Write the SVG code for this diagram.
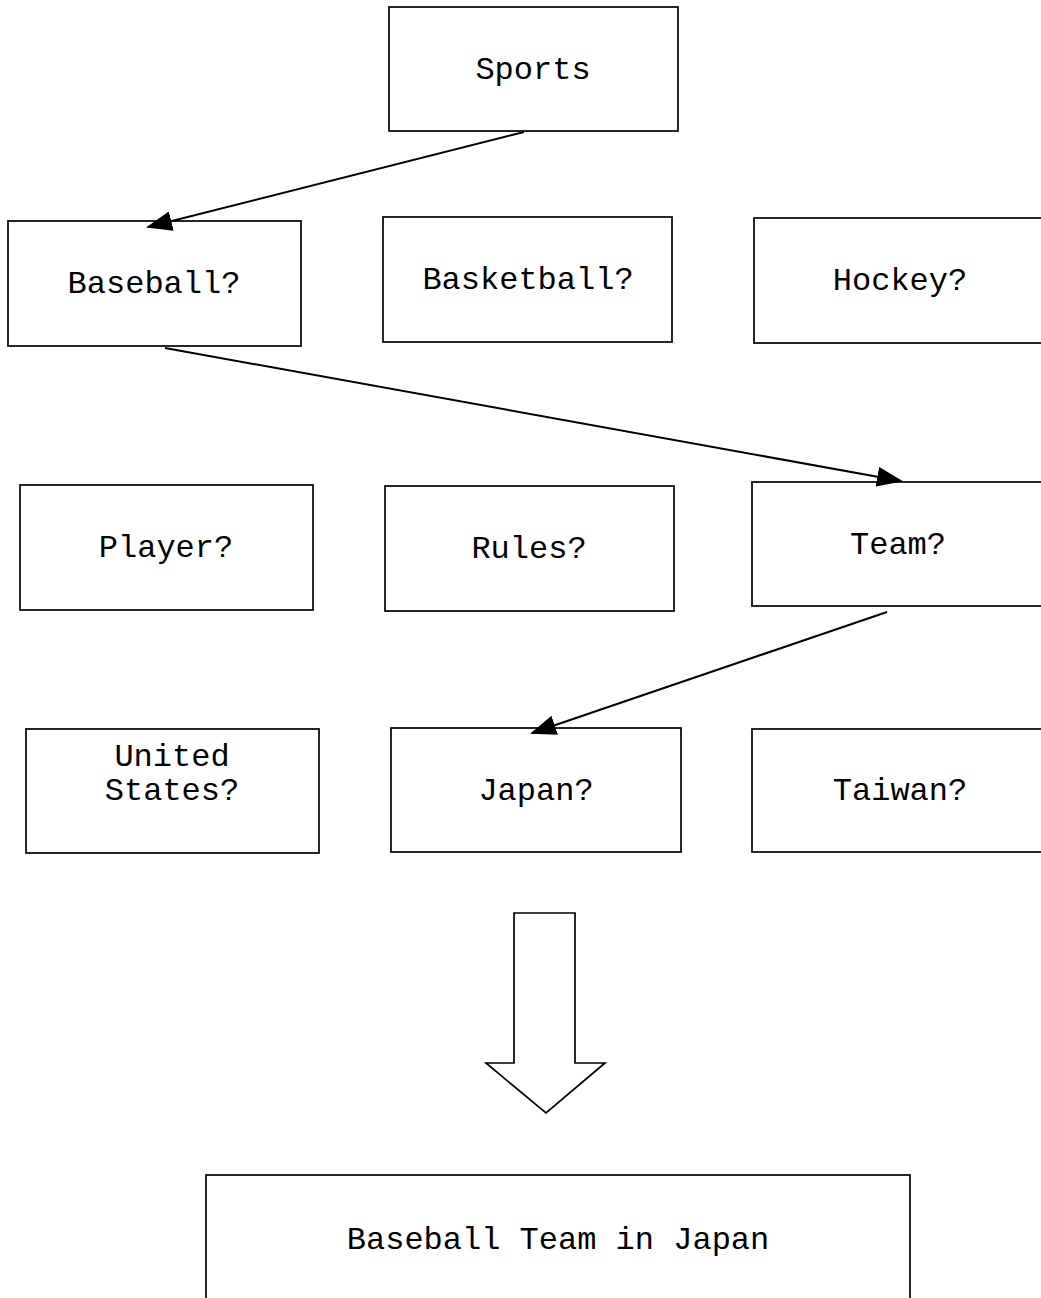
<svg xmlns="http://www.w3.org/2000/svg" width="1041" height="1298" viewBox="0 0 1041 1298">
<style>
.box{fill:#fff;stroke:#000;stroke-width:1.7}
.lbl{font-family:"Liberation Mono","Courier New",monospace;font-size:32px;fill:#000;text-anchor:middle}
.conn{stroke:#000;stroke-width:2;fill:none;marker-end:url(#ah)}
</style>
<defs>
<marker id="ah" viewBox="0 0 26 20" refX="24" refY="10" markerWidth="26" markerHeight="20" markerUnits="userSpaceOnUse" orient="auto">
<path d="M0,0 L26,10 L0,20 Z" fill="#000"/>
</marker>
</defs>
<rect width="1041" height="1298" fill="#fff"/>
<g id="sports"><rect class="box" x="389" y="7" width="289" height="124"/><text class="lbl" x="533" y="79">Sports</text></g>
<g id="baseball"><rect class="box" x="8" y="221" width="293" height="125"/><text class="lbl" x="154" y="293">Baseball?</text></g>
<g id="basketball"><rect class="box" x="383" y="217" width="289" height="125"/><text class="lbl" x="528" y="289">Basketball?</text></g>
<g id="hockey"><rect class="box" x="754" y="218" width="300" height="125"/><text class="lbl" x="900" y="290">Hockey?</text></g>
<g id="player"><rect class="box" x="20" y="485" width="293" height="125"/><text class="lbl" x="166" y="557">Player?</text></g>
<g id="rules"><rect class="box" x="385" y="486" width="289" height="125"/><text class="lbl" x="529" y="558">Rules?</text></g>
<g id="team"><rect class="box" x="752" y="482" width="300" height="124"/><text class="lbl" x="898" y="554">Team?</text></g>
<g id="us"><rect class="box" x="26" y="729" width="293" height="124"/><text class="lbl" x="172" y="766">United</text><text class="lbl" x="172" y="800">States?</text></g>
<g id="japan"><rect class="box" x="391" y="728" width="290" height="124"/><text class="lbl" x="536" y="800">Japan?</text></g>
<g id="taiwan"><rect class="box" x="752" y="729" width="300" height="123"/><text class="lbl" x="900" y="800">Taiwan?</text></g>
<g id="bigarrow"><path class="box" d="M514,913 L575,913 L575,1063 L605,1063 L546,1113 L486,1063 L514,1063 Z"/></g>
<g id="result"><rect class="box" x="206" y="1175" width="704" height="140"/><text class="lbl" x="558" y="1249">Baseball Team in Japan</text></g>
<g id="connectors">
<line class="conn" x1="524" y1="132" x2="148" y2="227"/>
<line class="conn" x1="165" y1="348" x2="901" y2="481"/>
<line class="conn" x1="887" y1="612" x2="532" y2="733"/>
</g>
</svg>
